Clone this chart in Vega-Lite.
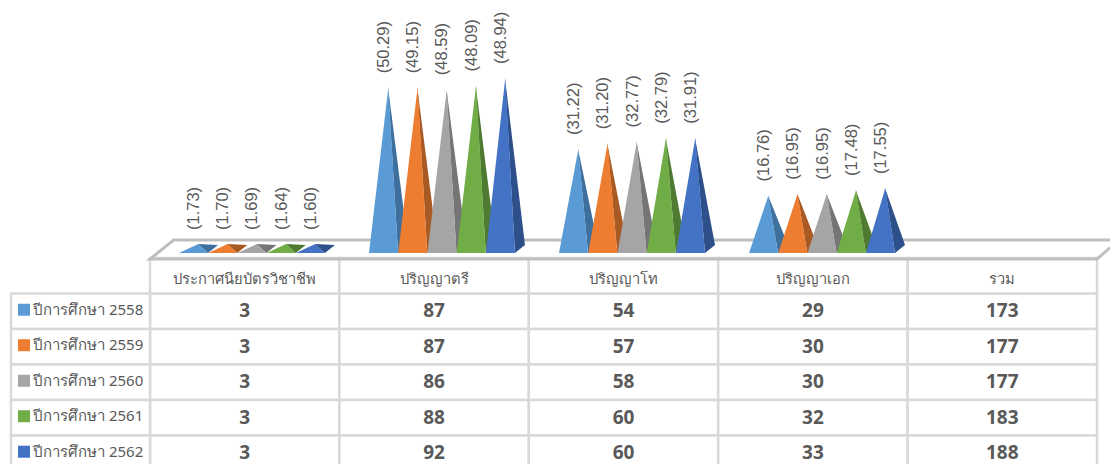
{
"$schema":"https://vega.github.io/schema/vega-lite/v6.json",
"width":1110,"height":464,"padding":0,"autosize":{"type":"none"},"background":"white",
"config":{"view":{"stroke":null},"font":"Noto Sans"},
"datasets":{
"rows":[
{"cat":"ประกาศนียบัตรวิชาชีพ","year":"ปีการศึกษา 2558","bar":"c1-58","count":3,"percent":"(1.73)"},
{"cat":"ประกาศนียบัตรวิชาชีพ","year":"ปีการศึกษา 2559","bar":"c1-59","count":3,"percent":"(1.70)"},
{"cat":"ประกาศนียบัตรวิชาชีพ","year":"ปีการศึกษา 2560","bar":"c1-60","count":3,"percent":"(1.69)"},
{"cat":"ประกาศนียบัตรวิชาชีพ","year":"ปีการศึกษา 2561","bar":"c1-61","count":3,"percent":"(1.64)"},
{"cat":"ประกาศนียบัตรวิชาชีพ","year":"ปีการศึกษา 2562","bar":"c1-62","count":3,"percent":"(1.60)"},
{"cat":"ปริญญาตรี","year":"ปีการศึกษา 2558","bar":"c2-58","count":87,"percent":"(50.29)"},
{"cat":"ปริญญาตรี","year":"ปีการศึกษา 2559","bar":"c2-59","count":87,"percent":"(49.15)"},
{"cat":"ปริญญาตรี","year":"ปีการศึกษา 2560","bar":"c2-60","count":86,"percent":"(48.59)"},
{"cat":"ปริญญาตรี","year":"ปีการศึกษา 2561","bar":"c2-61","count":88,"percent":"(48.09)"},
{"cat":"ปริญญาตรี","year":"ปีการศึกษา 2562","bar":"c2-62","count":92,"percent":"(48.94)"},
{"cat":"ปริญญาโท","year":"ปีการศึกษา 2558","bar":"c3-58","count":54,"percent":"(31.22)"},
{"cat":"ปริญญาโท","year":"ปีการศึกษา 2559","bar":"c3-59","count":57,"percent":"(31.20)"},
{"cat":"ปริญญาโท","year":"ปีการศึกษา 2560","bar":"c3-60","count":58,"percent":"(32.77)"},
{"cat":"ปริญญาโท","year":"ปีการศึกษา 2561","bar":"c3-61","count":60,"percent":"(32.79)"},
{"cat":"ปริญญาโท","year":"ปีการศึกษา 2562","bar":"c3-62","count":60,"percent":"(31.91)"},
{"cat":"ปริญญาเอก","year":"ปีการศึกษา 2558","bar":"c4-58","count":29,"percent":"(16.76)"},
{"cat":"ปริญญาเอก","year":"ปีการศึกษา 2559","bar":"c4-59","count":30,"percent":"(16.95)"},
{"cat":"ปริญญาเอก","year":"ปีการศึกษา 2560","bar":"c4-60","count":30,"percent":"(16.95)"},
{"cat":"ปริญญาเอก","year":"ปีการศึกษา 2561","bar":"c4-61","count":32,"percent":"(17.48)"},
{"cat":"ปริญญาเอก","year":"ปีการศึกษา 2562","bar":"c4-62","count":33,"percent":"(17.55)"},
{"cat":"รวม","year":"ปีการศึกษา 2558","count":173},
{"cat":"รวม","year":"ปีการศึกษา 2559","count":177},
{"cat":"รวม","year":"ปีการศึกษา 2560","count":177},
{"cat":"รวม","year":"ปีการศึกษา 2561","count":183},
{"cat":"รวม","year":"ปีการศึกษา 2562","count":188}
],
"floor":[
{"corner":1,"along":101.4,"depth":0.6},
{"corner":2,"along":100,"depth":0},
{"corner":3,"along":0,"depth":0},
{"corner":4,"along":2.5,"depth":1},
{"corner":5,"along":101.4,"depth":1}
]
},
"resolve":{"scale":{"x":"independent","y":"independent","xOffset":"independent"}},
"layer":[
{"data":{"name":"rows"},"mark":{"type":"rect","fill":"white","stroke":"#d9d9d9","strokeWidth":2.5},
 "encoding":{
  "x":{"field":"cat","type":"nominal","axis":null,"scale":{"type":"band","domain":["ประกาศนียบัตรวิชาชีพ","ปริญญาตรี","ปริญญาโท","ปริญญาเอก","รวม"],"range":[150,1097],"padding":0}},
  "y":{"field":"year","type":"nominal","axis":null,"scale":{"type":"band","domain":["header","ปีการศึกษา 2558","ปีการศึกษา 2559","ปีการศึกษา 2560","ปีการศึกษา 2561","ปีการศึกษา 2562"],"range":[258,471],"padding":0}}}},
{"data":{"name":"rows"},"transform":[{"filter":"datum.year === 'ปีการศึกษา 2558'"}],"mark":{"type":"rect","fill":"white","stroke":"#d9d9d9","strokeWidth":2.5},
 "encoding":{
  "x":{"field":"cat","type":"nominal","axis":null,"scale":{"type":"band","domain":["ประกาศนียบัตรวิชาชีพ","ปริญญาตรี","ปริญญาโท","ปริญญาเอก","รวม"],"range":[150,1097],"padding":0}},
  "y":{"datum":"header","type":"nominal","axis":null,"scale":{"type":"band","domain":["header","ปีการศึกษา 2558","ปีการศึกษา 2559","ปีการศึกษา 2560","ปีการศึกษา 2561","ปีการศึกษา 2562"],"range":[258,471],"padding":0}}}},
{"data":{"name":"rows"},"transform":[{"filter":"datum.cat === 'รวม'"}],"mark":{"type":"rect","fill":"white","stroke":"#d9d9d9","strokeWidth":2.5},
 "encoding":{
  "x":{"field":"cat","type":"nominal","axis":null,"scale":{"type":"band","domain":["รวม"],"range":[11,150],"padding":0}},
  "y":{"field":"year","type":"nominal","axis":null,"scale":{"type":"band","domain":["header","ปีการศึกษา 2558","ปีการศึกษา 2559","ปีการศึกษา 2560","ปีการศึกษา 2561","ปีการศึกษา 2562"],"range":[258,471],"padding":0}}}},
{"data":{"name":"rows"},"transform":[{"filter":"datum.cat === 'รวม'"}],"mark":{"type":"point","shape":"square","filled":true,"size":144,"opacity":1},
 "encoding":{
  "x":{"field":"cat","type":"nominal","axis":null,"scale":{"type":"point","domain":["รวม"],"range":[24,24],"padding":0}},
  "y":{"field":"year","type":"nominal","axis":null,"scale":{"type":"band","domain":["header","ปีการศึกษา 2558","ปีการศึกษา 2559","ปีการศึกษา 2560","ปีการศึกษา 2561","ปีการศึกษา 2562"],"range":[256.5,469.5],"padding":0}},
  "color":{"field":"year","type":"nominal","legend":null,"scale":{"domain":["ปีการศึกษา 2558","ปีการศึกษา 2559","ปีการศึกษา 2560","ปีการศึกษา 2561","ปีการศึกษา 2562"],"range":["#5b9bd5","#ed7d31","#a5a5a5","#70ad47","#4472c4"]}}}},
{"data":{"name":"rows"},"transform":[{"filter":"datum.cat === 'รวม'"}],"mark":{"type":"text","fontSize":15,"fill":"#595959","align":"left","baseline":"middle"},
 "encoding":{
  "x":{"field":"cat","type":"nominal","axis":null,"scale":{"type":"point","domain":["รวม"],"range":[33,33],"padding":0}},
  "y":{"field":"year","type":"nominal","axis":null,"scale":{"type":"band","domain":["header","ปีการศึกษา 2558","ปีการศึกษา 2559","ปีการศึกษา 2560","ปีการศึกษา 2561","ปีการศึกษา 2562"],"range":[256.5,469.5],"padding":0}},
  "text":{"field":"year","type":"nominal"}}},
{"data":{"name":"rows"},"mark":{"type":"text","fontSize":19,"fontWeight":"bold","font":"Open Sans","fill":"#595959","baseline":"middle"},
 "encoding":{
  "x":{"field":"cat","type":"nominal","axis":null,"scale":{"type":"band","domain":["ประกาศนียบัตรวิชาชีพ","ปริญญาตรี","ปริญญาโท","ปริญญาเอก","รวม"],"range":[150,1097],"padding":0}},
  "y":{"field":"year","type":"nominal","axis":null,"scale":{"type":"band","domain":["header","ปีการศึกษา 2558","ปีการศึกษา 2559","ปีการศึกษา 2560","ปีการศึกษา 2561","ปีการศึกษา 2562"],"range":[258,471],"padding":0}},
  "text":{"field":"count","type":"quantitative"}}},
{"data":{"name":"rows"},"transform":[{"filter":"datum.year === 'ปีการศึกษา 2558'"}],"mark":{"type":"text","fontSize":14.7,"fill":"#595959","baseline":"middle","dy":4},
 "encoding":{
  "x":{"field":"cat","type":"nominal","axis":null,"scale":{"type":"band","domain":["ประกาศนียบัตรวิชาชีพ","ปริญญาตรี","ปริญญาโท","ปริญญาเอก","รวม"],"range":[150,1097],"padding":0}},
  "y":{"datum":"header","type":"nominal","axis":null,"scale":{"type":"band","domain":["header","ปีการศึกษา 2558","ปีการศึกษา 2559","ปีการศึกษา 2560","ปีการศึกษา 2561","ปีการศึกษา 2562"],"range":[258,471],"padding":0}},
  "text":{"field":"cat","type":"nominal"}}},
{"data":{"name":"floor"},"mark":{"type":"line","stroke":"#bfbfbf","strokeWidth":3,"clip":false},
 "encoding":{
  "x":{"field":"along","type":"quantitative","axis":null,"scale":{"domain":[0,100],"range":[150,1097],"zero":false,"nice":false}},
  "y":{"field":"depth","type":"quantitative","axis":null,"scale":{"domain":[0,1],"range":[259,240],"zero":false,"nice":false}},
  "order":{"field":"corner","type":"quantitative"}}},
{"data":{"name":"rows"},
 "transform":[{"filter":"datum.cat !== 'รวม'"},{"fold":["count"],"as":["vertex","h"]},
  {"impute":"h","key":"vertex","keyvals":["count","edge"],"value":-1.8,"groupby":["bar","year"]},
  {"impute":"h","key":"vertex","keyvals":["count","edge","rear"],"value":2.5,"groupby":["bar","year"]}],
 "mark":{"type":"line","strokeWidth":0,"filled":true},
 "encoding":{
  "x":{"field":"bar","type":"nominal","axis":null,"scale":{"type":"point","padding":0,"range":[198,885],"domain":["c1-58","a1","c1-59","a2","c1-60","a3","c1-61","a4","c1-62","a5","a6","a7","a8","c2-58","b1","c2-59","b2","c2-60","b3","c2-61","b4","c2-62","b5","b6","b7","b8","c3-58","d1","c3-59","d2","c3-60","d3","c3-61","d4","c3-62","d5","d6","d7","d8","c4-58","e1","c4-59","e2","c4-60","e3","c4-61","e4","c4-62"]}},
  "xOffset":{"field":"vertex","type":"nominal","scale":{"type":"point","padding":0,"domain":["count","edge","rear"],"range":[0,20]}},
  "y":{"field":"h","type":"quantitative","stack":null,"axis":null,"scale":{"domain":[0,100],"range":[249.6,63.1],"nice":false,"zero":false}},
  "fill":{"field":"year","type":"nominal","legend":null,"scale":{"domain":["ปีการศึกษา 2558","ปีการศึกษา 2559","ปีการศึกษา 2560","ปีการศึกษา 2561","ปีการศึกษา 2562"],"range":["#3f6f9c","#a85a24","#757575","#4f7a32","#2d4f8a"]}},
  "detail":{"field":"bar","type":"nominal"},
  "order":{"field":"vertex","type":"ordinal"}}},
{"data":{"name":"rows"},
 "transform":[{"filter":"datum.cat !== 'รวม'"},{"fold":["count"],"as":["vertex","h"]},
  {"impute":"h","key":"vertex","keyvals":["base","count","edge"],"value":-1.8,"groupby":["bar","year"]}],
 "mark":{"type":"line","strokeWidth":0,"filled":true},
 "encoding":{
  "x":{"field":"bar","type":"nominal","axis":null,"scale":{"type":"point","padding":0,"range":[198,885],"domain":["c1-58","a1","c1-59","a2","c1-60","a3","c1-61","a4","c1-62","a5","a6","a7","a8","c2-58","b1","c2-59","b2","c2-60","b3","c2-61","b4","c2-62","b5","b6","b7","b8","c3-58","d1","c3-59","d2","c3-60","d3","c3-61","d4","c3-62","d5","d6","d7","d8","c4-58","e1","c4-59","e2","c4-60","e3","c4-61","e4","c4-62"]}},
  "xOffset":{"field":"vertex","type":"nominal","scale":{"type":"point","padding":0,"domain":["base","f","count","edge"],"range":[-19,10]}},
  "y":{"field":"h","type":"quantitative","stack":null,"axis":null,"scale":{"domain":[0,100],"range":[249.6,63.1],"nice":false,"zero":false}},
  "color":{"field":"year","type":"nominal","legend":null,"scale":{"domain":["ปีการศึกษา 2558","ปีการศึกษา 2559","ปีการศึกษา 2560","ปีการศึกษา 2561","ปีการศึกษา 2562"],"range":["#5b9bd5","#ed7d31","#a5a5a5","#70ad47","#4472c4"]}},
  "detail":{"field":"bar","type":"nominal"},
  "order":{"field":"vertex","type":"ordinal"}}},
{"data":{"name":"rows"},"transform":[{"filter":"datum.cat !== 'รวม'"}],
 "mark":{"type":"text","angle":270,"align":"left","baseline":"middle","font":"Liberation Sans","fontSize":16.5,"fill":"#595959","dx":14,"dy":-4},
 "encoding":{
  "x":{"field":"bar","type":"nominal","axis":null,"scale":{"type":"point","padding":0,"range":[198,885],"domain":["c1-58","a1","c1-59","a2","c1-60","a3","c1-61","a4","c1-62","a5","a6","a7","a8","c2-58","b1","c2-59","b2","c2-60","b3","c2-61","b4","c2-62","b5","b6","b7","b8","c3-58","d1","c3-59","d2","c3-60","d3","c3-61","d4","c3-62","d5","d6","d7","d8","c4-58","e1","c4-59","e2","c4-60","e3","c4-61","e4","c4-62"]}},
  "y":{"field":"count","type":"quantitative","axis":null,"scale":{"domain":[0,100],"range":[249.6,63.1],"nice":false,"zero":false}},
  "text":{"field":"percent","type":"nominal"}}}
]
}
